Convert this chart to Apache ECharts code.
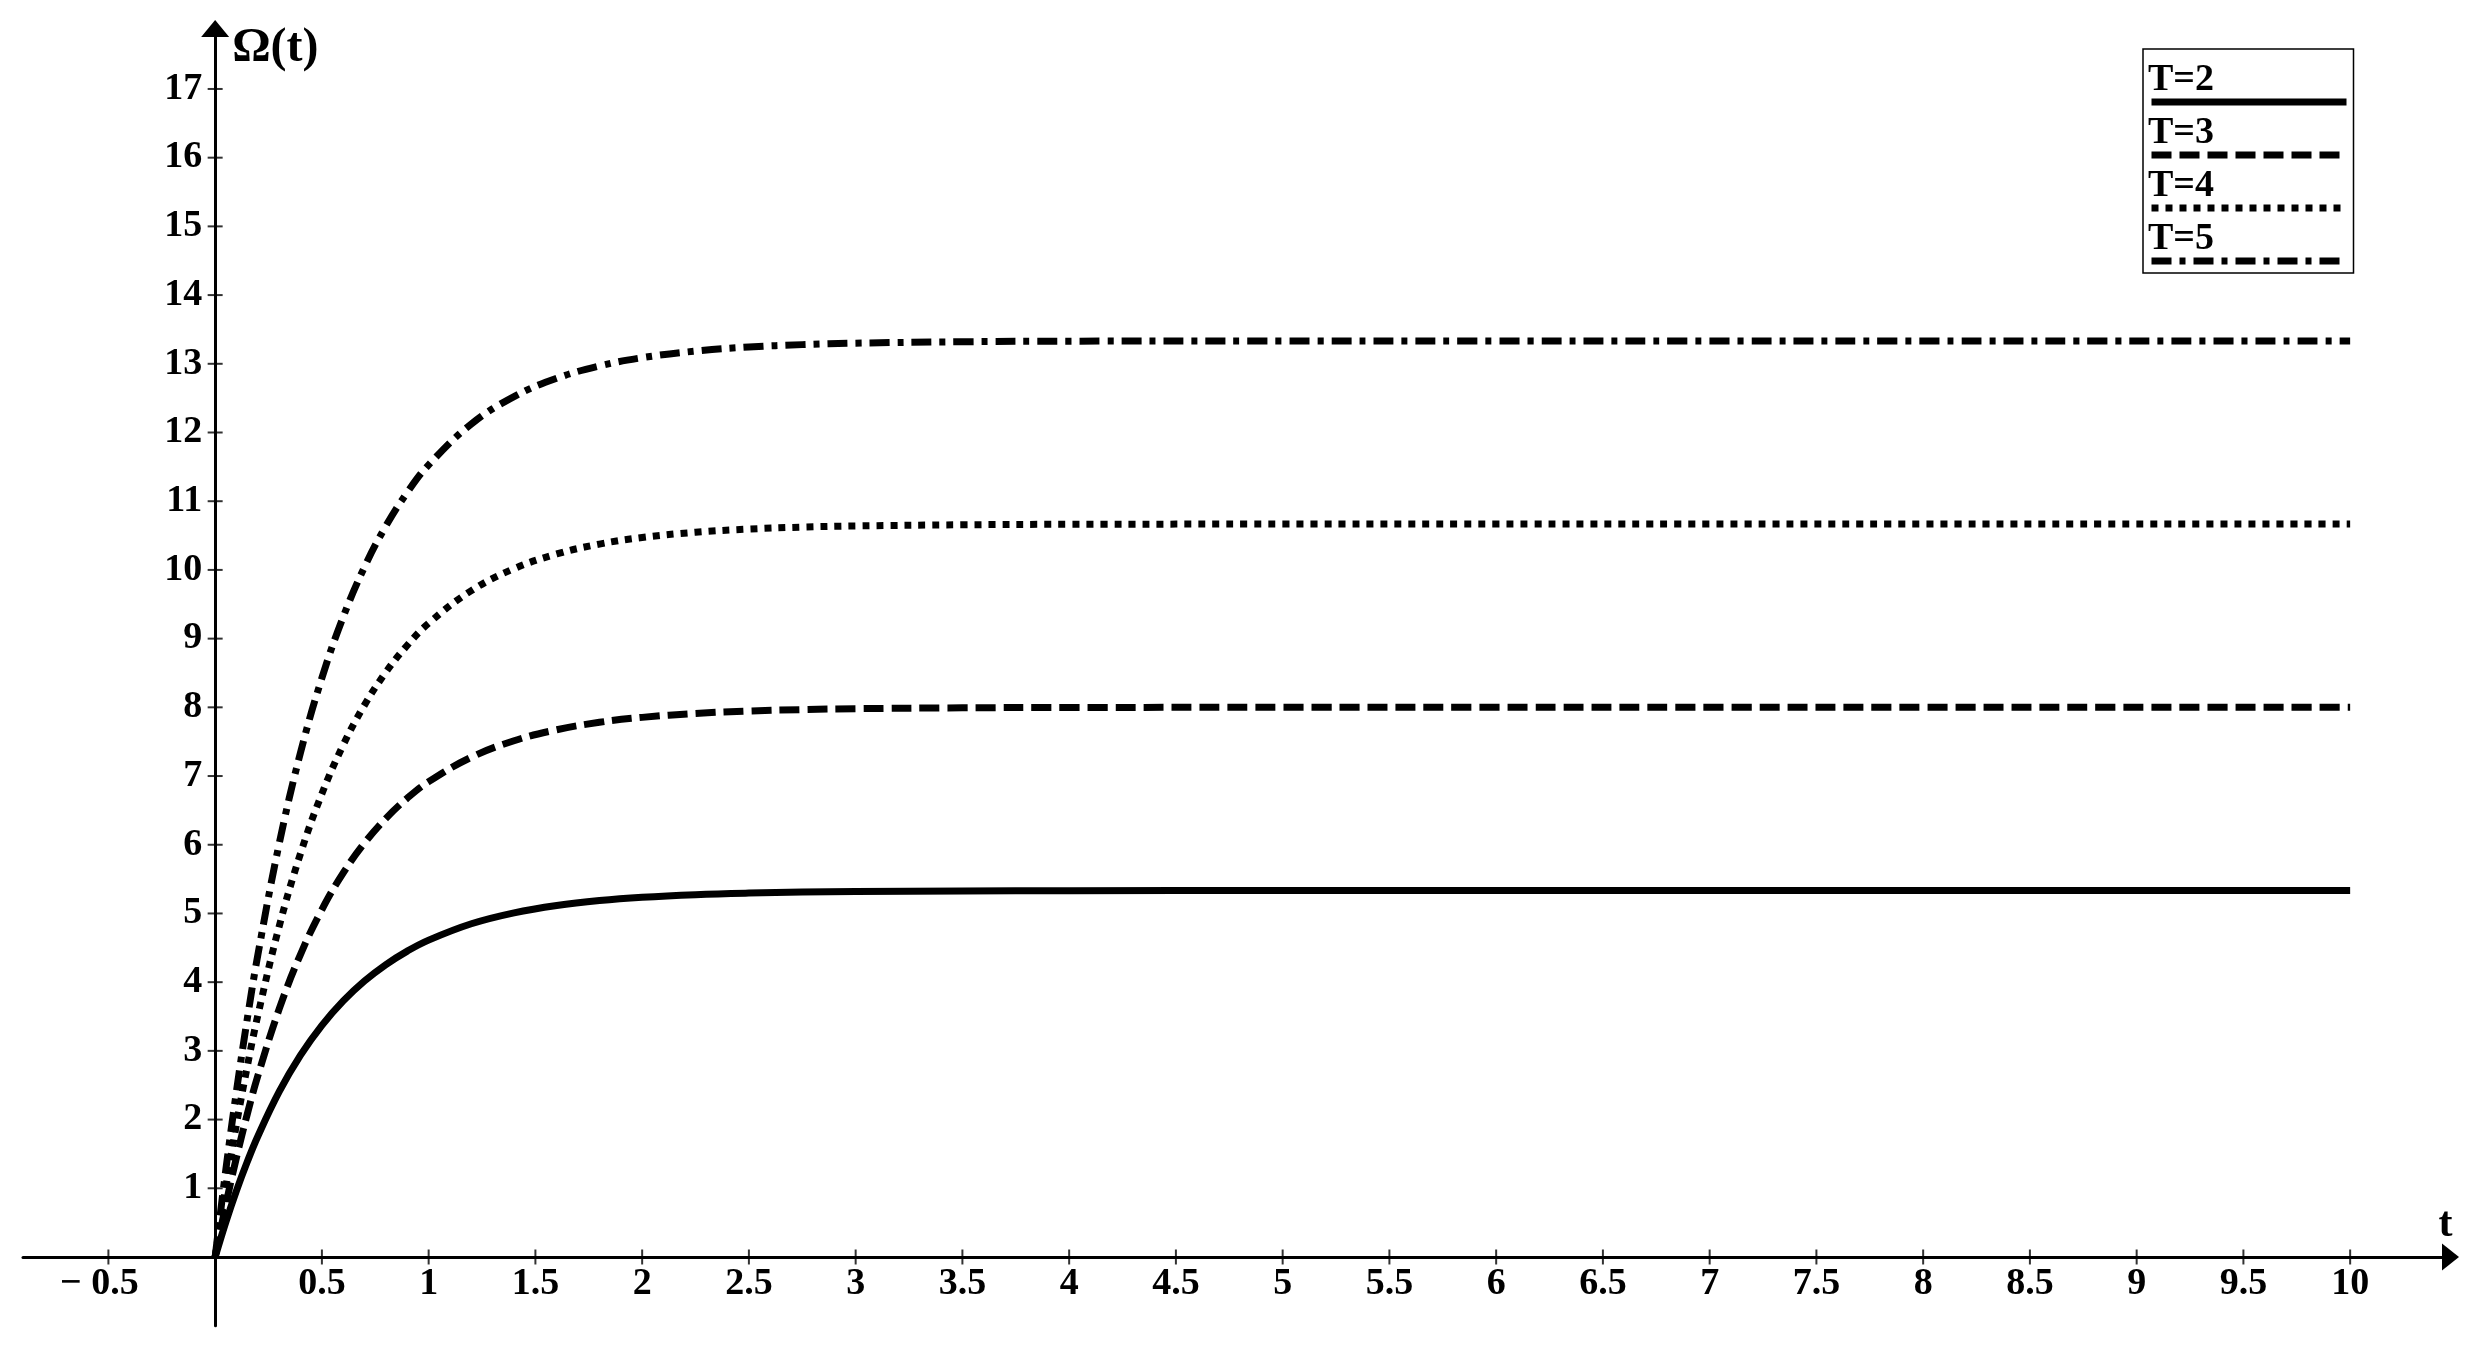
<!DOCTYPE html>
<html>
<head>
<meta charset="utf-8">
<script src="https://cdn.jsdelivr.net/npm/echarts@6/dist/echarts.min.js"></script>
<style>
html,body{margin:0;padding:0;background:#fff;}
#chart{width:2479px;height:1348px;}
</style>
</head>
<body>
<div id="chart"></div>
<script>
// ---- data ----
const seriesNames = ['T=2', 'T=3', 'T=4', 'T=5'];
const tValues = [0, 0.05, 0.1, 0.15, 0.2, 0.3, 0.4, 0.5, 0.6, 0.7, 0.8, 0.9, 1.0, 1.2, 1.4, 1.6, 1.8, 2.0, 2.25, 2.5, 2.75, 3, 3.5, 4, 5, 6, 7, 8, 9, 10];
const omegaT2 = [0, 0.508, 0.967, 1.382, 1.758, 2.406, 2.937, 3.371, 3.727, 4.018, 4.256, 4.452, 4.612, 4.850, 5.009, 5.116, 5.188, 5.236, 5.274, 5.297, 5.311, 5.320, 5.328, 5.332, 5.333, 5.333, 5.333, 5.333, 5.333, 5.333];
const omegaT3 = [0, 0.762, 1.450, 2.074, 2.638, 3.610, 4.406, 5.057, 5.590, 6.027, 6.385, 6.678, 6.918, 7.274, 7.514, 7.674, 7.782, 7.854, 7.911, 7.946, 7.967, 7.980, 7.993, 7.998, 8.000, 8.000, 8.000, 8.000, 8.000, 8.000];
const omegaT4 = [0, 1.016, 1.934, 2.765, 3.517, 4.813, 5.874, 6.743, 7.454, 8.036, 8.513, 8.904, 9.224, 9.699, 10.018, 10.232, 10.376, 10.472, 10.548, 10.595, 10.623, 10.640, 10.657, 10.664, 10.667, 10.667, 10.667, 10.667, 10.667, 10.667];
const omegaT5 = [0, 1.269, 2.417, 3.456, 4.396, 6.016, 7.343, 8.428, 9.317, 10.045, 10.641, 11.129, 11.529, 12.124, 12.523, 12.789, 12.969, 13.089, 13.185, 13.244, 13.279, 13.300, 13.321, 13.329, 13.333, 13.333, 13.333, 13.333, 13.333, 13.333];
const xTickValues = [-0.5, 0.5, 1, 1.5, 2, 2.5, 3, 3.5, 4, 4.5, 5, 5.5, 6, 6.5, 7, 7.5, 8, 8.5, 9, 9.5, 10];
const xTickLabels = ['\u2212 0.5', '0.5', '1', '1.5', '2', '2.5', '3', '3.5', '4', '4.5', '5', '5.5', '6', '6.5', '7', '7.5', '8', '8.5', '9', '9.5', '10'];
const yTickValues = [1, 2, 3, 4, 5, 6, 7, 8, 9, 10, 11, 12, 13, 14, 15, 16, 17];
const yTickLabels = ['1', '2', '3', '4', '5', '6', '7', '8', '9', '10', '11', '12', '13', '14', '15', '16', '17'];

// ---- layout & styles ----
const W = 2479, H = 1348;
const G = {left: 23, right: 28.5, top: 28.5, bottom: 22.3};
const X_MIN = -0.9, X_MAX = 10.47, Y_MIN = -1, Y_MAX = 17.88;
// place the axes through the origin (offset from the grid edges)
const xPxPerUnit = (W - G.left - G.right) / (X_MAX - X_MIN);
const yPxPerUnit = (H - G.top - G.bottom) / (Y_MAX - Y_MIN);
const yAxisOffset = -(0 - X_MIN) * xPxPerUnit;
const xAxisOffset = -(0 - Y_MIN) * yPxPerUnit;

const FONT = 'Liberation Serif';
const valuesBySeries = [omegaT2, omegaT3, omegaT4, omegaT5];
const dashes = ['solid', [20, 8], [7, 7], [20, 8, 6, 8]];

const pairs = (xs, ys) => xs.map((x, i) => [x, ys[i]]);

const chart = echarts.init(document.getElementById('chart'), null, {renderer: 'canvas'});

const lineSeries = seriesNames.map((name, i) => ({
  name: name,
  type: 'line',
  data: pairs(tValues, valuesBySeries[i]),
  smooth: 0.4,
  symbol: 'none',
  showSymbol: false,
  lineStyle: {color: '#000', width: 7, type: dashes[i], cap: 'butt', join: 'round'},
  itemStyle: {color: '#000'},
  z: 3
}));

const tickSeries = [
  {
    type: 'scatter', name: 'xticks', silent: true, z: 4,
    data: xTickValues.map(v => [v, 0]),
    symbol: 'rect', symbolSize: [2, 15],
    itemStyle: {color: '#000'}
  },
  {
    type: 'scatter', name: 'yticks', silent: true, z: 4,
    data: yTickValues.map(v => [0, v]),
    symbol: 'rect', symbolSize: [15, 2],
    itemStyle: {color: '#000'}
  }
];

const option = {
  animation: false,
  backgroundColor: '#fff',
  grid: {left: G.left, right: G.right, top: G.top, bottom: G.bottom, containLabel: false, outerBoundsMode: 'none'},
  xAxis: {
    type: 'value',
    min: X_MIN,
    max: X_MAX,
    position: 'bottom',
    offset: xAxisOffset,
    splitLine: {show: false},
    axisTick: {show: false},
    axisLine: {
      onZero: false,
      lineStyle: {color: '#000', width: 3},
      symbol: ['none', 'triangle'],
      symbolSize: [27, 17]
    },
    axisLabel: {
      customValues: xTickValues,
      formatter: v => {
        const k = xTickValues.indexOf(v);
        if (k < 0) return '';
        return v < 0 ? '{neg|' + xTickLabels[k] + '}' : xTickLabels[k];
      },
      rich: {neg: {color: '#000', fontFamily: FONT, fontWeight: 'bold', fontSize: 38, padding: [0, 18, 0, 0]}},
      color: '#000', fontFamily: FONT, fontWeight: 'bold', fontSize: 38, margin: 8
    },
    name: 't',
    nameLocation: 'end',
    nameGap: -5,
    nameTextStyle: {color: '#000', fontFamily: FONT, fontWeight: 'bold', fontSize: 42, align: 'center', verticalAlign: 'bottom', padding: [0, 0, 11, 0]}
  },
  yAxis: {
    type: 'value',
    min: Y_MIN,
    max: Y_MAX,
    position: 'left',
    offset: yAxisOffset,
    splitLine: {show: false},
    axisTick: {show: false},
    axisLine: {
      onZero: false,
      lineStyle: {color: '#000', width: 3},
      symbol: ['none', 'triangle'],
      symbolSize: [28, 17]
    },
    axisLabel: {
      customValues: yTickValues,
      formatter: v => { const k = yTickValues.indexOf(v); return k >= 0 ? yTickLabels[k] : ''; },
      color: '#000', fontFamily: FONT, fontWeight: 'bold', fontSize: 38, margin: 13
    },
    name: '\u03A9(t)',
    nameLocation: 'end',
    nameGap: 4,
    nameTextStyle: {color: '#000', fontFamily: FONT, fontWeight: 'bold', fontSize: 48, align: 'left', verticalAlign: 'top', padding: [0, 0, 0, 17]}
  },
  legend: [
    {
      // line samples + frame
      orient: 'vertical',
      left: 2143, top: 49,
      padding: [49.5, 2, 8.5, 5],
      itemWidth: 195, itemHeight: 7, itemGap: 46,
      borderColor: '#000', borderWidth: 1.5,
      selectedMode: false,
      formatter: () => '',
      textStyle: {fontSize: 1, lineHeight: 1},
      itemStyle: {opacity: 0},
      lineStyle: {width: 7},
      data: seriesNames
    },
    {
      // labels
      orient: 'vertical',
      left: 2143, top: 54,
      padding: 0,
      icon: 'none',
      itemWidth: 0, itemHeight: 10, itemGap: 0,
      selectedMode: false,
      textStyle: {color: '#000', fontFamily: FONT, fontWeight: 'bold', fontSize: 38, lineHeight: 53},
      data: seriesNames
    }
  ],
  series: lineSeries.concat(tickSeries)
};

chart.setOption(option);
</script>
</body>
</html>
